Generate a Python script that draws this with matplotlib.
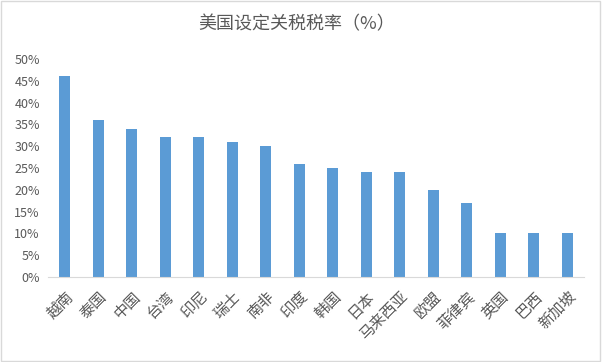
import matplotlib.pyplot as plt
from matplotlib.patches import Rectangle
from matplotlib.ticker import PercentFormatter

plt.rcParams['font.family'] = ['Noto Sans CJK SC', 'DejaVu Sans']

# data
countries = ["越南", "泰国", "中国", "台湾", "印尼", "瑞士", "南非", "印度",
             "韩国", "日本", "马来西亚", "欧盟", "菲律宾", "英国", "巴西", "新加坡"]
rates = [0.46, 0.36, 0.34, 0.32, 0.32, 0.31, 0.30, 0.26,
         0.25, 0.24, 0.24, 0.20, 0.17, 0.10, 0.10, 0.10]

text_color = "#595959"

fig = plt.figure(figsize=(6.02, 3.62), dpi=100)
ax = fig.add_axes([0.08, 0.235, 0.89, 0.602])

ax.bar(range(len(countries)), rates, width=0.33, color="#5B9BD5")

ax.set_xlim(-0.5, len(countries) - 0.5)
ax.set_ylim(0, 0.5)
ax.set_yticks([i * 0.05 for i in range(11)])
ax.yaxis.set_major_formatter(PercentFormatter(1.0, decimals=0))
ax.set_xticks(range(len(countries)))
ax.set_xticklabels(countries, rotation=45, ha="right", rotation_mode="anchor",
                   fontsize=11, color=text_color)
ax.tick_params(axis="y", labelsize=9, colors=text_color, length=0, pad=6)
ax.tick_params(axis="x", length=0, pad=8)

for side in ["left", "right", "top"]:
    ax.spines[side].set_visible(False)
ax.spines["bottom"].set_color("#D9D9D9")

fig.text(0.493, 0.934, "美国设定关税税率（%）", ha="center", va="center",
         fontsize=13, color=text_color)

# outer border
fig.patches.append(Rectangle((0.002, 0.003), 0.995, 0.994, transform=fig.transFigure,
                             fill=False, edgecolor="#D9D9D9", linewidth=1))

fig.savefig("out.png", dpi=100)
